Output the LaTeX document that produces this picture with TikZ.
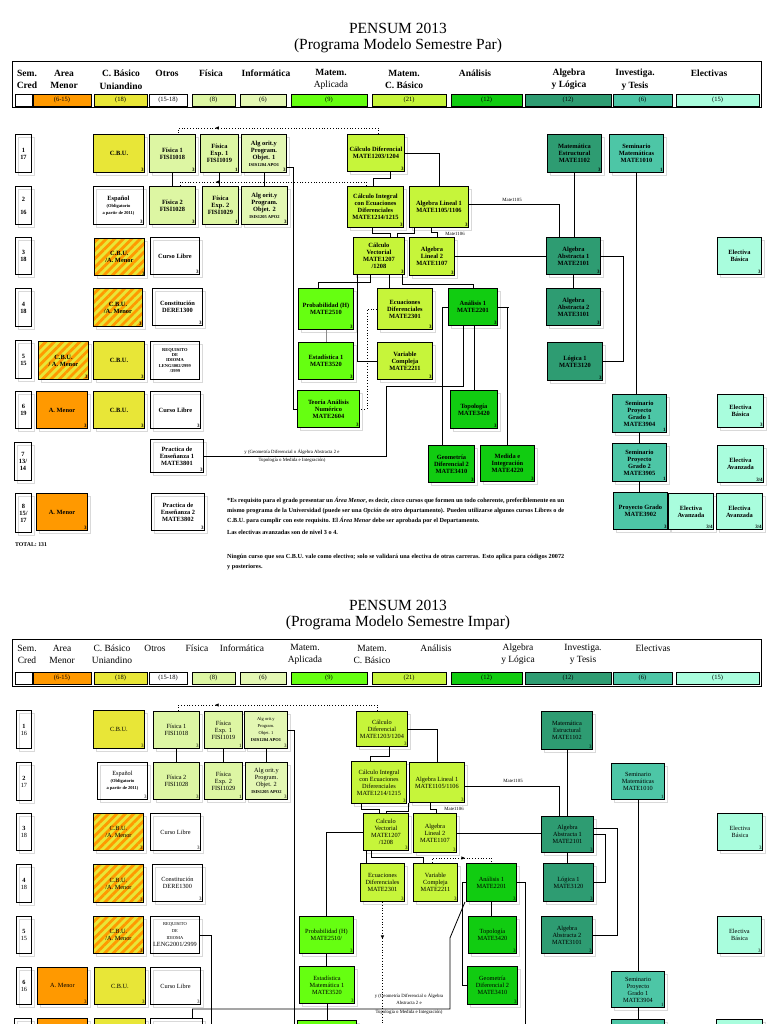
\documentclass[tikz,border=0pt]{standalone}
\usepackage{fontspec}
\setmainfont{Liberation Serif}
\usetikzlibrary{positioning,calc,shadows,patterns.meta,decorations.markings,arrows.meta}

\definecolor{amenor}{HTML}{FF9900}
\definecolor{cbu}{HTML}{E8E637}
\definecolor{fisica}{HTML}{DDF6A3}
\definecolor{infor}{HTML}{E3F7B3}
\definecolor{aplic}{HTML}{66FF11}
\definecolor{cbasico}{HTML}{C6F53A}
\definecolor{analisis}{HTML}{11CC11}
\definecolor{algebra}{HTML}{2E9C72}
\definecolor{investiga}{HTML}{4DC6A6}
\definecolor{electiva}{HTML}{A9FDDD}

\newcommand{\chico}{\fontsize{4.5}{5.2}\selectfont}

\begin{document}
\begin{tikzpicture}[x=1pt,y=-1pt,
    caja/.style={draw, line width=0.9pt, anchor=north west, align=center, inner sep=1pt,
      copy shadow={draw=black!15, fill=white, line width=0.5pt, shadow xshift=3pt, shadow yshift=-3pt}},
    tam/.style 2 args={minimum width=#1pt, minimum height=#2pt},
    cr/.style={label={[anchor=south east, inner sep=1pt, font=\fontsize{5}{5}\selectfont\bfseries]south east:#1}},
    crn/.style={label={[anchor=south east, inner sep=1pt, font=\fontsize{5}{5}\selectfont]south east:#1}},
    rayado/.style={preaction={fill=cbu}, pattern={Lines[angle=45,distance=6pt,line width=2.8pt]}, pattern color=amenor},
    lk/.style={line width=0.8pt},
    punteo/.style={dotted, line width=0.8pt},
    flecha/.style={postaction={decorate, decoration={markings, mark=at position #1 with {\arrow{Latex[length=4pt,width=3.5pt]}}}}},
    titulo/.style={font=\fontsize{15.5}{17}\selectfont},
    cab/.style={align=center, font=\fontsize{9.5}{12}\selectfont},
    barra/.style={draw, line width=0.8pt},
    etq/.style={align=center, inner sep=0pt, font=\fontsize{4.8}{5.4}\selectfont},
    nota/.style={anchor=north west, text width=337pt, align=justify, inner sep=0pt, font=\fontsize{6.2}{10}\selectfont\bfseries},
  ]
\useasboundingbox[fill=white] (0,0) rectangle (768,1024);

% ---------- Semestre Par ----------
\node[titulo] (titA) at (398,28) {PENSUM 2013};
\node[titulo] (subA) at (398,46) {(Programa Modelo Semestre Par)};
\draw[line width=1pt] (12,62) rectangle (761,108);
\begin{scope}[cab/.append style={font=\fontsize{9.5}{12.5}\selectfont\bfseries}]
\node[cab] (hA1) at (27,79.5) {Sem.\\Cred};
\node[cab] (hA2) at (64,79.5) {Area\\Menor};
\node[cab] (hA3) at (121,79.5) {C. Básico\\Uniandino};
\node[cab] (hA4) at (167,73) {Otros};
\node[cab] (hA5) at (211,73) {Física};
\node[cab] (hA6) at (266,73) {Informática};
\node[cab] (hA7) at (331,79.5) {Matem.\\\mdseries Aplicada};
\node[cab] (hA8) at (404,79.5) {Matem.\\C. Básico};
\node[cab] (hA9) at (475,73) {Análisis};
\node[cab] (hA10) at (569,79.5) {Algebra\\y Lógica};
\node[cab] (hA11) at (635,79.5) {Investiga.\\y Tesis};
\node[cab] (hA12) at (709,73) {Electivas};
\end{scope}
\foreach \a/\b/\c/\t [count=\i] in {15/32/white/{}, 33/91/amenor/(6-15), 94/147/cbu/(18), 149/187/white/(15-18), 192/235/fisica/(8), 240/286/infor/(6), 291/367/aplic/(9), 372/446/cbasico/(21), 451/522/analisis/(12), 525/611/algebra/(12), 613/672/investiga/(6), 676/759/electiva/(15)}{
  \draw[barra, fill=\c] (\a,94) rectangle (\b,106);
  \node[font=\fontsize{6.5}{7}\selectfont] (barA\i) at ({(\a+\b)/2},100) {\t};
}

\begin{scope}[every node/.append style={font=\fontsize{6.4}{7}\selectfont\bfseries}]
% Semestre 1
\node[caja, tam={16}{38}] (sA1) at (15,134) {1\\17};
\node[caja, tam={51}{38}, fill=cbu, cr=3] (cbuA1) at (93,134) {C.B.U.};
\node[caja, tam={46}{38}, fill=fisica, cr=3] (fisA1) at (149,134) {Física 1\\FISI1018};
\node[caja, tam={38}{38}, fill=fisica, cr=1] (fexA1) at (200,134) {Física\\Exp. 1\\FISI1019};
\node[caja, tam={45}{38}, fill=infor, cr=3] (apoA1) at (241,134) {Alg orit.y\\Program.\\Objet. 1\\\chico ISIS1204 APO1};
\node[caja, tam={57}{37}, fill=cbasico, cr=3] (cdifA) at (347,134) {Cálculo Diferencial\\MATE1203/1204};
\node[caja, tam={54}{38}, fill=algebra, cr=3] (mestA) at (547,134) {Matemática\\Estructural\\MATE1102};
\node[caja, tam={54}{38}, fill=investiga, cr=1] (smatA) at (609,134) {Seminario\\Matemáticas\\MATE1010};
% Semestre 2
\node[caja, tam={16}{38}] (sA2) at (15,186) {2\\[6pt]16};
\node[caja, tam={50}{38}, cr=3] (espA) at (93,186) {Español\\\chico(Obligatorio\\\chico a partir de 2011)};
\node[caja, tam={46}{38}, fill=fisica, cr=3] (fisA2) at (149,186) {Física 2\\FISI1028};
\node[caja, tam={36}{38}, fill=fisica, cr=1] (fexA2) at (202,186) {Física\\Exp. 2\\FISI1029};
\node[caja, tam={46}{38}, fill=infor, cr=3] (apoA2) at (241,186) {Alg orit.y\\Program.\\Objet. 2\\\chico ISIS1205 APO2};
\node[caja, tam={56}{41}, fill=cbasico, cr=3] (cintA) at (347,186) {Cálculo Integral\\con Ecuaciones\\Diferenciales\\MATE1214/1215};
\node[caja, tam={59}{41}, fill=cbasico, cr=3] (al1A) at (409,186) {Algebra Lineal 1\\MATE1105/1106};
% Semestre 3
\node[caja, tam={16}{37}] (sA3) at (15,237) {3\\18};
\node[caja, tam={50}{37}, rayado, cr=3] (cbuamA3) at (93,237) {C.B.U.\\/A. Menor};
\node[caja, tam={49}{37}, cr=3] (libreA3) at (150,237) {Curso Libre};
\node[caja, tam={51}{37}, fill=cbasico, cr=3] (cvecA) at (353,237) {Cálculo\\Vectorial\\MATE1207\\/1208};
\node[caja, tam={45}{38}, fill=cbasico, cr=3] (al2A) at (409,237) {Algebra\\Lineal 2\\MATE1107};
\node[caja, tam={54}{37}, fill=algebra, cr=3] (aa1A) at (546,237) {Algebra\\Abstracta 1\\MATE2101};
\node[caja, tam={44}{37}, fill=electiva, cr=3] (ebA3) at (717,237) {Electiva\\Básica};
% Semestre 4
\node[caja, tam={16}{38}] (sA4) at (15,288) {4\\18};
\node[caja, tam={49}{38}, rayado, cr=3] (cbuamA4) at (93,288) {C.B.U.\\/A. Menor};
\node[caja, tam={50}{37}, cr=3] (constA) at (152,288) {Constitución\\DERE1300};
\node[caja, tam={55}{41}, fill=aplic, cr=3] (probA) at (298,288) {Probabilidad (H)\\MATE2510};
\node[caja, tam={55}{41}, fill=cbasico, cr=3] (edifA) at (377,288) {Ecuaciones\\Diferenciales\\MATE2301};
\node[caja, tam={49}{37}, fill=analisis, cr=3] (an1A) at (448,288) {Análisis 1\\MATE2201};
\node[caja, tam={54}{37}, fill=algebra, cr=3] (aa2A) at (546,288) {Algebra\\Abstracta 2\\MATE3101};
% Semestre 5
\node[caja, tam={16}{38}] (sA5) at (15,340) {5\\15};
\node[caja, tam={50}{38}, rayado, cr=3] (cbuamA5) at (38,341) {C.B.U.\\/ A. Menor};
\node[caja, tam={51}{38}, fill=cbu, cr=3] (cbuA5) at (93,341) {C.B.U.};
\node[caja, tam={49}{38}, font=\chico\bfseries] (idiomaA) at (150,341) {REQUISITO\\DE\\IDIOMA\\LENG3002/2999\\/3999};
\node[caja, tam={55}{37}, fill=aplic, cr=3] (estA) at (298,342) {Estadística 1\\MATE3520};
\node[caja, tam={55}{37}, fill=cbasico, cr=3] (vcompA) at (377,342) {Variable\\Compleja\\MATE2211};
\node[caja, tam={55}{38}, fill=algebra, cr=3] (logA) at (547,342) {Lógica 1\\MATE3120};
% Semestre 6
\node[caja, tam={16}{37}] (sA6) at (15,391) {6\\19};
\node[caja, tam={51}{37}, fill=amenor, cr=3] (amA6) at (36,391) {A. Menor};
\node[caja, tam={51}{37}, fill=cbu, cr=3] (cbuA6) at (93,391) {C.B.U.};
\node[caja, tam={50}{37}, cr=3] (libreA6) at (150,391) {Curso Libre};
\node[caja, tam={62}{37}, fill=aplic, cr=3] (tanA) at (297,390) {Teoría Análisis\\Numérico\\MATE2604};
\node[caja, tam={47}{38}, fill=analisis, cr=3] (topA) at (450,390) {Topología\\MATE3420};
\node[caja, tam={54}{38}, fill=investiga, cr=1] (spg1A) at (612,394) {Seminario\\Proyecto\\Grado 1\\MATE3904};
\node[caja, tam={46}{33}, fill=electiva, cr=3] (ebA6) at (717,394) {Electiva\\Básica};
% Semestre 7
\node[caja, tam={17}{38}] (sA7) at (14,442) {7\\13/\\14};
\node[caja, tam={53}{33}, cr=3] (peA1) at (150,439) {Practica de\\Enseñanza 1\\MATE3801};
\node[caja, tam={46}{37}, fill=analisis, cr=3] (geoA) at (428,445) {Geometría\\Diferencial 2\\MATE3410};
\node[caja, tam={54}{36}, fill=analisis, cr=3] (medA) at (480,445) {Medida e\\Integración\\MATE4220};
\node[caja, tam={54}{38}, fill=investiga, cr=1] (spg2A) at (612,443) {Seminario\\Proyecto\\Grado 2\\MATE3905};
\node[caja, tam={46}{37}, fill=electiva, cr=3/4] (eaA7) at (717,445) {Electiva\\Avanzada};
% Semestre 8
\node[caja, tam={16}{39}] (sA8) at (15,493) {8\\15/\\17};
\node[caja, tam={51}{37}, fill=amenor, cr=3] (amA8) at (36,493) {A. Menor};
\node[caja, tam={53}{37}, cr=3] (peA2) at (151,493) {Practica de\\Enseñanza 2\\MATE3802};
\node[caja, tam={54}{37}, fill=investiga, cr=3] (pgA) at (613,492) {Proyecto Grado\\MATE3902};
\node[caja, tam={45}{36}, fill=electiva, cr=3/4] (eaA8a) at (668,493) {Electiva\\Avanzada};
\node[caja, tam={46}{36}, fill=electiva, cr=3/4] (eaA8b) at (716,493) {Electiva\\Avanzada};
\node[anchor=west, inner sep=0pt, font=\fontsize{5.8}{6}\selectfont\bfseries] (totalA) at (15,545) {TOTAL: 131};
\end{scope}

% Prerrequisitos (par)
\draw[lk] (fisA1) -- (fisA2);
\draw[lk] (fexA1.south) -- (fexA1.south |- fexA2.north);
\draw[lk] (apoA1.south) -- (apoA1.south |- apoA2.north);
\draw[punteo, flecha=0.8] ([xshift=2pt]cdifA.north) -- ++(0,-6) -| ([xshift=6pt]fisA1.north);
\draw[punteo, flecha=0.8] ([xshift=-9pt]cintA.north) -- ++(0,-4) -| ([xshift=8pt]fisA2.north);
\draw[lk] ([yshift=-14pt]apoA1.east) -- ++(6,0) |- (tanA.west);
\draw[lk] ([xshift=14pt]cdifA.south) -- ++(0,7) -| ([xshift=-2pt]cintA.north);
\draw[lk] (cdifA.east) -| (al1A.north);
\draw[lk] ([xshift=-3pt]cintA.south) -- ++(0,6) -| ([xshift=11pt]cvecA.north);
\draw[lk] ([xshift=-25pt]al1A.south) -- ++(0,6) -| ([xshift=18pt]cvecA.north);
\draw[lk] ([xshift=-8pt]al1A.south) -- ++(0,5) -| ([xshift=5pt]al2A.north);
\node[etq] (m1106A) at (455,234) {Mate1106};
\draw[lk] ([yshift=3pt]al1A.east) -| ([xshift=-14pt]aa1A.north);
\node[etq] (m1105A) at (512,200) {Mate1105};
\draw[lk] (al2A.east) -- (al2A.east -| aa1A.west);
\draw[lk] (mestA.south) -- (mestA.south |- aa1A.north);
\draw[lk] (aa1A.south) -- (aa1A.south |- aa2A.north);
\draw[lk] (aa1A.east) -- ++(22,0) |- (logA.east);
\draw[lk] (smatA.south) -- (smatA.south |- spg1A.north);
\draw[lk] (spg1A.south) -- (spg1A.south |- spg2A.north);
\draw[lk] (spg2A.south) -- (spg2A.south |- pgA.north);
\draw[lk] ([xshift=-9pt]cvecA.south) -- ++(0,7) -| ([xshift=-8pt]probA.north);
\draw[lk] ([xshift=10pt]cvecA.south) -- ([xshift=10pt]cvecA.south |- edifA.north);
\draw[lk] ([xshift=23pt]cvecA.south) -- ++(0,9) -| (an1A.north);
\draw[lk] ([xshift=4pt]cvecA.south west) |- (vcompA.west);
\draw[lk, black!45] (probA.south) -- (probA.south |- estA.north);
\draw[punteo] (edifA.west) -- ++(-10,0) |- (tanA.east);
\draw[lk] (an1A.west) -- ++(-6,0) -| ([xshift=-9pt]geoA.north);
\draw[lk] ([xshift=-9.5pt]an1A.south) -- ++(0,60) -- ++(-77,0) |- (peA1.east);
\draw[lk] (an1A.south -| topA.north) -- (topA.north);
\draw[lk] (an1A.east) -- ++(11,0) -| (medA.north);
\node[etq, font=\fontsize{4.8}{8}\selectfont] (condA) at (292,456) {y (Geometría Diferencial o Álgebra Abstracta 2 e\\Topología o Medida e Integración)};

% Notas
\node[nota] (nota1) at (227,497) {*Es requisito para el grado presentar un \textit{Área Menor}, es decir, \textit{cinco} cursos que formen un todo coherente, preferiblemente en un mismo programa de la Universidad (puede ser una \textit{Opción} de otro departamento). Pueden utilizarse algunos cursos Libres o de C.B.U. para cumplir con este requisito. El \textit{Área Menor} debe ser aprobada por el Departamento.};
\node[nota] (nota2) at (227,530) {Las electivas avanzadas son de nivel 3 o 4.};
\node[nota] (nota3) at (227,554) {Ningún curso que sea C.B.U. vale como electivo; solo se validará una electiva de otras carreras. Esto aplica para códigos 20072 y posteriores.};

% ---------- Semestre Impar ----------
\node[titulo] (titB) at (398,605) {PENSUM 2013};
\node[titulo] (subB) at (398,623) {(Programa Modelo Semestre Impar)};
\draw[line width=1pt] (12,639) rectangle (761,686);
\node[cab] (hB1) at (27,654) {Sem.\\Cred};
\node[cab] (hB2) at (62,654) {Area\\Menor};
\node[cab] (hB3) at (112,654) {C. Básico\\Uniandino};
\node[cab] (hB4) at (155,648) {Otros};
\node[cab] (hB5) at (197,648) {Física};
\node[cab] (hB6) at (242,648) {Informática};
\node[cab] (hB7) at (305,654) {Matem.\\Aplicada};
\node[cab] (hB8) at (372,654) {Matem.\\C. Básico};
\node[cab] (hB9) at (436,648) {Análisis};
\node[cab] (hB10) at (518,654) {Algebra\\y Lógica};
\node[cab] (hB11) at (583,654) {Investiga.\\y Tesis};
\node[cab] (hB12) at (653,648) {Electivas};
\foreach \a/\b/\c/\t [count=\i] in {15/32/white/{}, 33/91/amenor/(6-15), 94/147/cbu/(18), 149/187/white/(15-18), 192/235/fisica/(8), 240/286/infor/(6), 291/367/aplic/(9), 372/446/cbasico/(21), 451/522/analisis/(12), 525/611/algebra/(12), 613/672/investiga/(6), 676/759/electiva/(15)}{
  \draw[barra, fill=\c] (\a,672) rectangle (\b,684);
  \node[font=\fontsize{6.5}{7}\selectfont] (barB\i) at ({(\a+\b)/2},678) {\t};
}

\begin{scope}[every node/.append style={font=\fontsize{6.3}{7}\selectfont}]
% Semestre 1
\node[caja, tam={15}{38}] (sB1) at (16,710) {\textbf{1}\\16};
\node[caja, tam={51}{38}, fill=cbu, crn=3] (cbuB1) at (93,710) {C.B.U.};
\node[caja, tam={46}{37}, fill=fisica, crn=3] (fisB1) at (153,711) {Física 1\\FISI1018};
\node[caja, tam={38}{37}, fill=fisica, crn=1] (fexB1) at (204,711) {Física\\Exp. 1\\FISI1019};
\node[caja, tam={43}{37}, fill=infor, crn=3] (apoB1) at (244,711) {\chico Alg orit.y\\\chico Program.\\\chico Objet. 1\\\chico\bfseries ISIS1204 APO1};
\node[caja, tam={51}{35}, fill=cbasico, crn=3] (cdifB) at (356,711) {Cálculo\\Diferencial\\MATE1203/1204};
\node[caja, tam={51}{38}, fill=algebra, crn=3] (mestB) at (541,711) {Matemática\\Estructural\\MATE1102};
% Semestre 2
\node[caja, tam={15}{38}] (sB2) at (16,762) {\textbf{2}\\17};
\node[caja, tam={50}{37}, crn=3] (espB) at (97,762) {Español\\\chico\bfseries(Obligatorio\\\chico\bfseries a partir de 2011)};
\node[caja, tam={46}{37}, fill=fisica, crn=3] (fisB2) at (153,762) {Física 2\\FISI1028};
\node[caja, tam={38}{37}, fill=fisica, crn=1] (fexB2) at (204,762) {Física\\Exp. 2\\FISI1029};
\node[caja, tam={42}{37}, fill=infor, crn=3] (apoB2) at (245,762) {Alg orit.y\\Program.\\Objet. 2\\\chico\bfseries ISIS1205 APO2};
\node[caja, tam={55}{42}, fill=cbasico, crn=3] (cintB) at (351,761) {Cálculo Integral\\con Ecuaciones\\Diferenciales\\MATE1214/1215};
\node[caja, tam={55}{40}, fill=cbasico, crn=3] (al1B) at (409,762) {Algebra Lineal 1\\MATE1105/1106};
\node[caja, tam={53}{36}, fill=investiga, crn=1] (smatB) at (611,763) {Seminario\\Matemáticas\\MATE1010};
% Semestre 3
\node[caja, tam={15}{37}] (sB3) at (16,813) {\textbf{3}\\18};
\node[caja, tam={50}{37}, rayado, crn=3] (cbuamB3) at (93,813) {C.B.U.\\/A. Menor};
\node[caja, tam={50}{37}, crn=3] (libreB3) at (150,813) {Curso Libre};
\node[caja, tam={45}{37}, fill=cbasico, crn=3] (cvecB) at (363,813) {Calculo\\Vectorial\\MATE1207\\/1208};
\node[caja, tam={43}{39}, fill=cbasico, crn=3] (al2B) at (413,813) {Algebra\\Lineal 2\\MATE1107};
\node[caja, tam={52}{36}, fill=algebra, crn=3] (aa1B) at (541,816) {Algebra\\Abstracta 1\\MATE2101};
\node[caja, tam={45}{37}, fill=electiva, crn=3] (ebB3) at (717,813) {Electiva\\Básica};
% Semestre 4
\node[caja, tam={15}{38}] (sB4) at (16,864) {\textbf{4}\\18};
\node[caja, tam={50}{38}, rayado, crn=3] (cbuamB4) at (93,864) {C.B.U.\\/A. Menor};
\node[caja, tam={50}{37}, crn=3] (constB) at (152,864) {Constitución\\DERE1300};
\node[caja, tam={44}{38}, fill=cbasico, crn=3] (edifB) at (360,863) {Ecuaciones\\Diferenciales\\MATE2301};
\node[caja, tam={44}{38}, fill=cbasico, crn=3] (vcompB) at (413,863) {Variable\\Compleja\\MATE2211};
\node[caja, tam={50}{38}, fill=analisis, crn=3] (an1B) at (466,863) {Análisis 1\\MATE2201};
\node[caja, tam={50}{38}, fill=algebra, crn=3] (logB) at (543,863) {Lógica 1\\MATE3120};
% Semestre 5
\node[caja, tam={15}{37}] (sB5) at (16,916) {\textbf{5}\\15};
\node[caja, tam={50}{37}, rayado, crn=3] (cbuamB5) at (93,916) {C.B.U.\\/A. Menor};
\node[caja, tam={49}{37}] (idiomaB) at (150,916) {\chico REQUISITO\\\chico DE\\\chico IDIOMA\\LENG2001/2999};
\node[caja, tam={54}{37}, fill=aplic, crn=3] (probB) at (299,916) {Probabilidad (H)\\MATE2510/};
\node[caja, tam={48}{37}, fill=analisis, crn=3] (topB) at (468,916) {Topología\\MATE3420};
\node[caja, tam={51}{37}, fill=algebra, crn=3] (aa2B) at (541,916) {Algebra\\Abstracta 2\\MATE3101};
\node[caja, tam={44}{37}, fill=electiva, crn=3] (ebB5) at (717,916) {Electiva\\Básica};
% Semestre 6
\node[caja, tam={15}{37}] (sB6) at (16,967) {\textbf{6}\\16};
\node[caja, tam={50}{37}, fill=amenor, crn=3] (amB6) at (37,967) {A. Menor};
\node[caja, tam={51}{37}, fill=cbu, crn=3] (cbuB6) at (94,967) {C.B.U.};
\node[caja, tam={50}{37}, crn=3] (libreB6) at (150,967) {Curso Libre};
\node[caja, tam={55}{37}, fill=aplic, crn=3] (estB) at (299,966) {Estadística\\Matemática 1\\MATE3520};
\node[caja, tam={50}{38}, fill=analisis, crn=3] (geoB) at (467,966) {Geometría\\Diferencial 2\\MATE3410};
\node[caja, tam={53}{36}, fill=investiga, crn=1] (spg1B) at (611,971) {Seminario\\Proyecto\\Grado 1\\MATE3904};
% Semestre 7 (cortado por el borde)
\node[caja, tam={17}{38}] (sB7) at (14,1018) {};
\node[caja, tam={50}{38}, fill=amenor] (amB7) at (37,1018) {};
\node[caja, tam={51}{38}, fill=cbu] (cbuB7) at (94,1018) {};
\node[caja, tam={52}{38}] (peB1) at (150,1018) {};
\node[caja, tam={59}{38}, fill=aplic] (tanB) at (297,1020) {};
\node[caja, tam={53}{38}, fill=investiga] (spg2B) at (611,1019) {};
\node[caja, tam={46}{38}, fill=electiva] (ebB7) at (716,1019) {};
\end{scope}

% Prerrequisitos (impar)
\draw[lk] (fisB1) -- (fisB2);
\draw[lk] (fexB1) -- (fexB2);
\draw[lk] (apoB1.south) -- (apoB1.south |- apoB2.north);
\draw[punteo, flecha=0.8] ([xshift=-4.5pt]cdifB.north) -- ++(0,-6) -| ([xshift=2pt]fisB1.north);
\draw[lk] (apoB1.east) -- ++(6,0) |- (tanB.west);
\draw[lk] ([xshift=7.5pt]cdifB.south) -- ++(0,9) -| ([xshift=-8.5pt]cintB.north);
\draw[lk] (cdifB.east) -| (al1B.north);
\draw[lk] ([xshift=-18pt]cintB.south) -- ++(0,5) -| ([xshift=-6.5pt]cvecB.north);
\draw[lk] ([xshift=-28.5pt]al1B.south) -- ++(0,8) -| (cvecB.north);
\draw[lk] ([xshift=-6.5pt]al1B.south) -- ++(0,6) -| ([xshift=1.5pt]al2B.north);
\node[etq] (m1106B) at (454,809) {Mate1106};
\draw[lk] ([yshift=-4pt]al1B.east) -| ([xshift=-8pt]aa1B.north);
\node[etq] (m1105B) at (513,781) {Mate1105};
\draw[lk] (al2B.east) -- (al2B.east -| aa1B.west);
\draw[lk] (mestB.south) -- (mestB.south |- aa1B.north);
\draw[lk] (aa1B.south) -- (aa1B.south |- logB.north);
\draw[lk] ([yshift=6pt]aa1B.east) -- ++(23,0) |- (aa2B.east);
\draw[lk] (aa1B.east) -- ++(11,0) |- (logB.east);
\draw[lk] (smatB.south) -- (smatB.south |- spg1B.north);
\draw[lk] (spg1B.south) -- (spg1B.south |- spg2B.north);
\draw[lk] (cvecB.west) -| (probB.north);
\draw[lk] ([xshift=-19.5pt]cvecB.south) -- ([xshift=-19.5pt]cvecB.south |- edifB.north);
\draw[lk] ([xshift=-14.5pt]cvecB.south) -- ++(0,6) -| ([xshift=-12pt]vcompB.north);
\draw[punteo, flecha=0.55] ([xshift=-3pt]vcompB.north) -- ++(0,-5) -| (an1B.north);
\draw[punteo, flecha=0.23] (edifB.south) |- (tanB.east);
\draw[lk] (probB.south) -- (probB.south |- estB.north);
\draw[lk] (estB.south) -- (estB.south |- tanB.north);
\draw[lk] (an1B.south) -- (an1B.south |- topB.north);
\draw[lk] (an1B.west) -- ++(-4,0) |- (geoB.west);
\draw[lk] ([xshift=-1pt]an1B.south west) -- ++(-15,36) -- ++(0,71) -| ([xshift=16pt]peB1.north);
\coordinate (finIdioma) at (211,1030);
\draw[lk] (idiomaB.east) -| (finIdioma);
\coordinate (finMedida) at (525,1030);
\draw[lk] (an1B.east) -| (finMedida);
\node[etq, font=\fontsize{4.8}{7}\selectfont] (condB) at (409,1004) {y (Geometría Diferencial o Álgebra\\Abstracta 2 e\\[2pt]Topología o Medida e Integración)};
\end{tikzpicture}
\end{document}
